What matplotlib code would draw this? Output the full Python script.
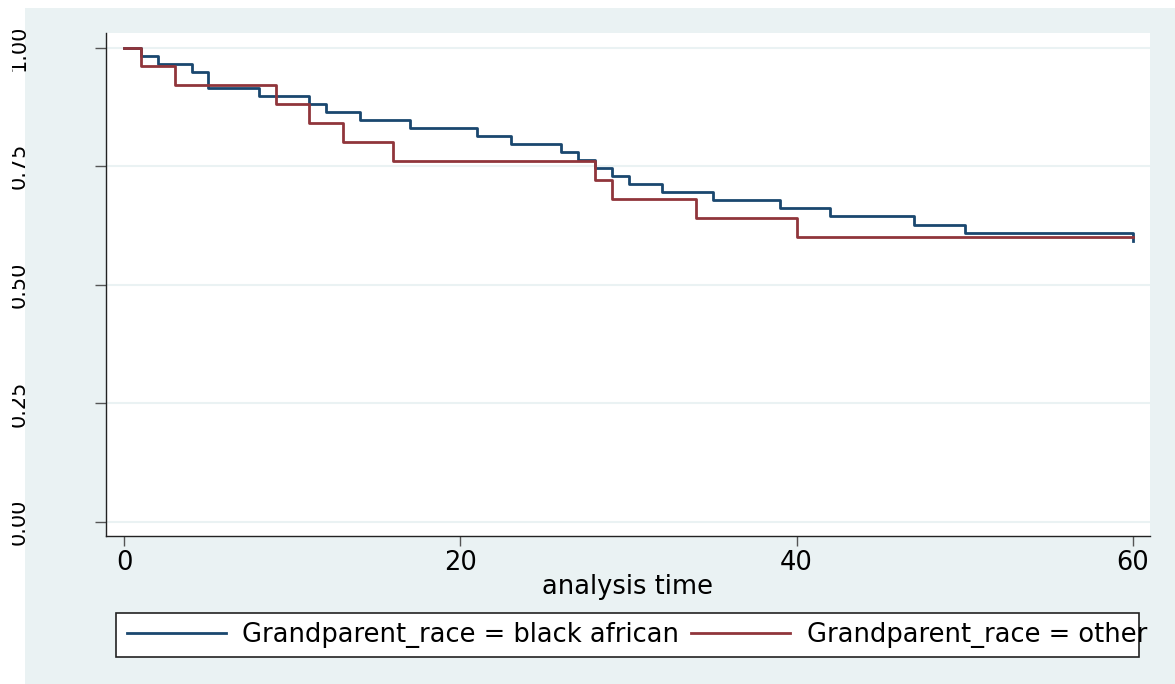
import matplotlib.pyplot as plt
from matplotlib.patches import Rectangle
from matplotlib.transforms import Bbox, TransformedBbox

# Kaplan-Meier estimates
bk_time = [0, 1, 2, 4, 5, 8, 11, 12, 14, 17, 21, 23, 26, 27, 28, 29, 30, 32, 35, 39, 42, 47, 50, 60]
bk_surv = [1.000, 0.983, 0.966, 0.949, 0.915, 0.898, 0.881, 0.864, 0.847, 0.831, 0.814, 0.797,
           0.780, 0.763, 0.746, 0.729, 0.712, 0.695, 0.678, 0.661, 0.644, 0.627, 0.610, 0.593]
ot_time = [0, 1, 3, 9, 11, 13, 16, 28, 29, 34, 40, 60]
ot_surv = [1.00, 0.96, 0.92, 0.88, 0.84, 0.80, 0.76, 0.72, 0.68, 0.64, 0.60, 0.60]

x_ticks = [0, 20, 40, 60]
y_ticks = [0.00, 0.25, 0.50, 0.75, 1.00]
y_labels = ['0.00', '0.25', '0.50', '0.75', '1.00']
labels = ['Grandparent_race = black african', 'Grandparent_race = other']

navy = '#1a476f'
maroon = '#90353b'
panel = '#eaf2f3'

fig = plt.figure(figsize=(11.75, 6.84), dpi=100, facecolor='white')
fig.patches.append(Rectangle((25 / 1175, 0), 1, 1 - 8 / 684, transform=fig.transFigure,
                             facecolor=panel, edgecolor='none', zorder=-10))

ax = fig.add_axes([106 / 1175, 1 - 536 / 684, 1044 / 1175, 503 / 684])
ax.set_facecolor('white')

l1, = ax.plot(bk_time, bk_surv, drawstyle='steps-post', color=navy, lw=2.0)
l2, = ax.plot(ot_time, ot_surv, drawstyle='steps-post', color=maroon, lw=2.0)

ax.set_xlim(-1.1, 61.04)
ax.set_ylim(-0.0295, 1.0306)
for yv in y_ticks:
    ax.axhline(yv, color=panel, lw=1.5, zorder=0)

ax.set_xticks(x_ticks)
ax.set_yticks(y_ticks)
ax.set_yticklabels(y_labels, rotation=90, va='center', fontsize=15)
ax.tick_params(axis='x', length=7, width=1, color='#555555', pad=3, labelsize=18.5)
ax.tick_params(axis='y', length=8, width=1, color='#555555', pad=48)

for s in ['top', 'right']:
    ax.spines[s].set_visible(False)
for s in ['left', 'bottom']:
    ax.spines[s].set_color('#222222')
    ax.spines[s].set_linewidth(1.0)

ax.set_xlabel('analysis time', fontsize=18.5, labelpad=-1)

# left part of the rotated y labels is cut off in the original
clip = TransformedBbox(Bbox.from_extents(12 / 1175, 0, 1, 1), fig.transFigure)
for lab in ax.get_yticklabels():
    lab.set_clip_box(clip)
    lab.set_clip_on(True)

# legend box drawn separately; the last label runs past its right edge
fig.patches.append(Rectangle((116 / 1175, 1 - 657 / 684), 1023 / 1175, 44 / 684,
                             transform=fig.transFigure, facecolor='white',
                             edgecolor='#222222', lw=1.2, zorder=1))
leg = fig.legend([l1, l2], labels, loc='center', bbox_to_anchor=(0.5421, 0.0716), ncol=2,
                 fontsize=18.5, frameon=False, handlelength=3.85, handletextpad=0.66,
                 columnspacing=0.45, borderpad=0, borderaxespad=0)
for h in leg.get_lines():
    h.set_linewidth(2.0)

fig.savefig('out.png', dpi=100)
